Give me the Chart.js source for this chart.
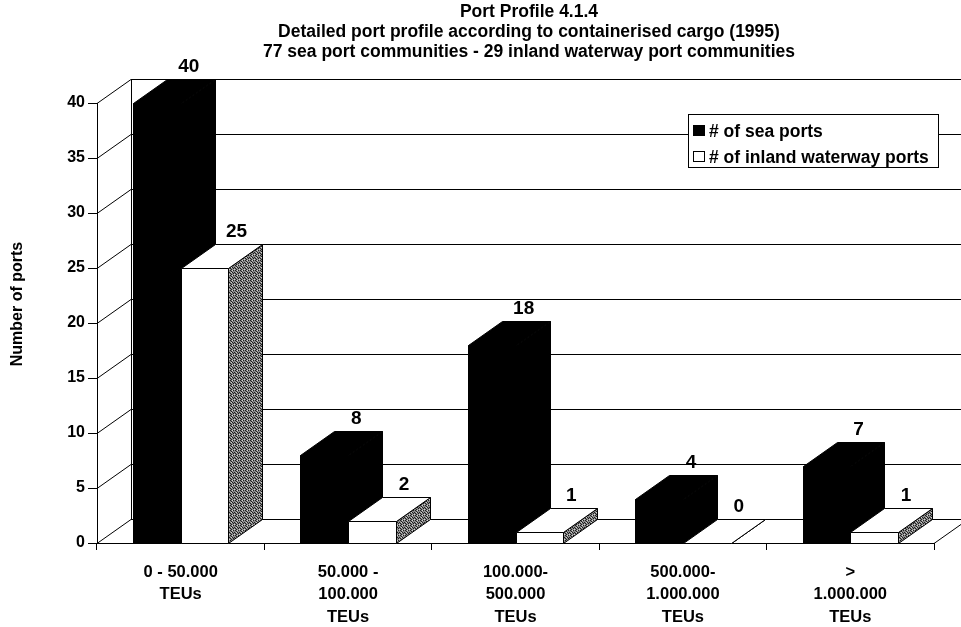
<!DOCTYPE html>
<html>
<head>
<meta charset="utf-8">
<title>Port Profile 4.1.4</title>
<script src="https://cdn.jsdelivr.net/npm/chart.js@4.4.1/dist/chart.umd.min.js"></script>
<style>
  html, body { margin: 0; padding: 0; background: #fff; }
  #wrap { width: 961px; height: 627px; position: relative; }
</style>
</head>
<body>
<div id="wrap"><canvas id="portChart"></canvas></div>
<script>
// categories (TEU classes), one array of lines per label
const categories = [
  ['0 - 50.000', 'TEUs'],
  ['50.000 -', '100.000', 'TEUs'],
  ['100.000-', '500.000', 'TEUs'],
  ['500.000-', '1.000.000', 'TEUs'],
  ['>', '1.000.000', 'TEUs']
];
const seaPorts = [40, 8, 18, 4, 7];
const inlandPorts = [25, 2, 1, 0, 1];
const seriesNames = ['# of sea ports', '# of inland waterway ports'];
const titleLines = [
  'Port Profile 4.1.4',
  'Detailed port profile according to containerised cargo (1995)',
  '77 sea port communities - 29 inland waterway port communities'
];
const yTitle = 'Number of ports';
const yMin = 0, yMax = 40, yStep = 5;

const FONT = '"Liberation Sans", Arial, Helvetica, sans-serif';
const DEPTH_X = 34, DEPTH_Y = 24;

// dotted grey used on the side faces of the white bars
function stipple(ctx) {
  const c = document.createElement('canvas');
  c.width = 5; c.height = 5;
  const p = c.getContext('2d');
  p.fillStyle = '#8a8a8a';
  p.fillRect(0, 0, 5, 5);
  p.fillStyle = '#1e1e1e';
  [[0, 0], [3, 0], [1, 1], [4, 2], [2, 2], [0, 3], [3, 3], [1, 4]].forEach(([a, b]) => p.fillRect(a, b, 1, 1));
  p.fillStyle = '#d0d0d0';
  [[2, 0], [4, 4], [1, 2]].forEach(([a, b]) => p.fillRect(a, b, 1, 1));
  return ctx.createPattern(c, 'repeat');
}

function poly(ctx, pts, fill) {
  ctx.beginPath();
  ctx.moveTo(pts[0][0], pts[0][1]);
  for (let i = 1; i < pts.length; i++) ctx.lineTo(pts[i][0], pts[i][1]);
  ctx.closePath();
  ctx.fillStyle = fill;
  ctx.fill();
  ctx.stroke();
}

// back wall, side wall and floor, then the boxes and their value labels
const box3d = {
  id: 'box3d',
  beforeDatasetsDraw(chart) {
    const ctx = chart.ctx;
    const area = chart.chartArea;
    const ys = chart.scales.y;
    const W = chart.width;
    ctx.save();
    ctx.strokeStyle = '#000';
    ctx.lineWidth = 1;

    // walls
    ctx.beginPath();
    ys.ticks.forEach(t => {
      const py = Math.round(ys.getPixelForValue(t.value)) + 0.5;
      ctx.moveTo(area.left, py);
      ctx.lineTo(area.left + DEPTH_X, py - DEPTH_Y);
      ctx.lineTo(W, py - DEPTH_Y);
    });
    const bx = Math.round(area.left + DEPTH_X) + 0.5;
    ctx.moveTo(bx, Math.round(area.top) - DEPTH_Y + 0.5);
    ctx.lineTo(bx, Math.round(area.bottom) - DEPTH_Y + 0.5);
    // right edge of the floor
    ctx.moveTo(area.right, Math.round(area.bottom) + 0.5);
    ctx.lineTo(area.right + DEPTH_X, Math.round(area.bottom) + 0.5 - DEPTH_Y);
    ctx.stroke();

    const grey = stipple(ctx);
    const metas = chart.data.datasets.map((d, i) => chart.getDatasetMeta(i));
    const n = chart.data.labels.length;
    for (let i = 0; i < n; i++) {
      metas.forEach((meta, di) => {
        const el = meta.data[i];
        const left = Math.round(el.x - el.width / 2) + 0.5;
        const right = Math.round(el.x + el.width / 2) + 0.5;
        const top = Math.round(el.y) + 0.5;
        const base = Math.round(el.base) + 0.5;
        const face = chart.data.datasets[di].backgroundColor;
        const side = di === 0 ? '#000' : grey;
        poly(ctx, [[right, top], [right + DEPTH_X, top - DEPTH_Y],
                   [right + DEPTH_X, base - DEPTH_Y], [right, base]], side);
        poly(ctx, [[left, top], [left + DEPTH_X, top - DEPTH_Y],
                   [right + DEPTH_X, top - DEPTH_Y], [right, top]], face);
        if (base - top > 0.5) {
          poly(ctx, [[left, top], [right, top], [right, base], [left, base]], face);
        }
      });
    }

    // value labels
    ctx.fillStyle = '#000';
    ctx.font = 'bold 19px ' + FONT;
    ctx.textAlign = 'center';
    ctx.textBaseline = 'alphabetic';
    metas.forEach((meta, di) => {
      meta.data.forEach((el, i) => {
        const v = chart.data.datasets[di].data[i];
        ctx.fillText(String(v), el.x + DEPTH_X - 2, el.y - DEPTH_Y - 7);
      });
    });
    ctx.restore();
    return false;
  },
  afterDraw(chart) {
    const ctx = chart.ctx;
    const area = chart.chartArea;
    ctx.save();
    // titles
    ctx.fillStyle = '#000';
    ctx.font = 'bold 17.5px ' + FONT;
    ctx.textAlign = 'center';
    ctx.textBaseline = 'middle';
    const cx = (area.left + chart.width) / 2;
    titleLines.forEach((t, i) => ctx.fillText(t, cx, 12 + i * 20));

    // y axis title
    ctx.save();
    ctx.translate(18, 304);
    ctx.rotate(-Math.PI / 2);
    ctx.font = 'bold 16px ' + FONT;
    ctx.fillText(yTitle, 0, 0);
    ctx.restore();

    // legend box
    const lx = 688.5, ly = 114.5, lw = 250, lh = 53;
    ctx.fillStyle = '#fff';
    ctx.fillRect(lx, ly, lw, lh);
    ctx.strokeStyle = '#000';
    ctx.lineWidth = 1;
    ctx.strokeRect(lx, ly, lw, lh);
    ctx.font = 'bold 17.5px ' + FONT;
    ctx.textAlign = 'left';
    chart.data.datasets.forEach((ds, i) => {
      const yy = 131 + i * 26;
      ctx.fillStyle = ds.backgroundColor;
      ctx.fillRect(693.5, yy - 5.5, 11, 10);
      ctx.strokeRect(693.5, yy - 5.5, 11, 10);
      ctx.fillStyle = '#000';
      ctx.fillText(ds.label, 709, yy + 1);
    });
    ctx.restore();
  }
};

const ctx = document.getElementById('portChart').getContext('2d');
new Chart(ctx, {
  type: 'bar',
  data: {
    labels: categories,
    datasets: [
      { label: seriesNames[0], data: seaPorts, backgroundColor: '#000',
        categoryPercentage: 0.57, barPercentage: 1 },
      { label: seriesNames[1], data: inlandPorts, backgroundColor: '#fff',
        categoryPercentage: 0.57, barPercentage: 1 }
    ]
  },
  options: {
    responsive: true,
    maintainAspectRatio: false,
    animation: false,
    layout: { padding: { top: 103, right: 27, left: 0, bottom: 0 } },
    plugins: {
      legend: { display: false },
      title: { display: false },
      tooltip: { enabled: false }
    },
    scales: {
      x: {
        grid: { display: true, drawOnChartArea: false, drawTicks: true,
                tickLength: 7, color: '#000', offset: true },
        border: { display: true, color: '#000', width: 1 },
        ticks: { color: '#000', font: { family: FONT, size: 16.5, weight: 'bold', lineHeight: 1.37 },
                 padding: 11, maxRotation: 0, autoSkip: false },
        afterFit: s => { s.height = 84; }
      },
      y: {
        min: yMin,
        max: yMax,
        grid: { display: true, drawOnChartArea: false, drawTicks: true,
                tickLength: 9, color: '#000' },
        border: { display: true, color: '#000', width: 1 },
        ticks: { stepSize: yStep, color: '#000', padding: 3,
                 font: { family: FONT, size: 16, weight: 'bold' } },
        afterFit: s => { s.width = 97; }
      }
    }
  },
  plugins: [box3d]
});
</script>
</body>
</html>
